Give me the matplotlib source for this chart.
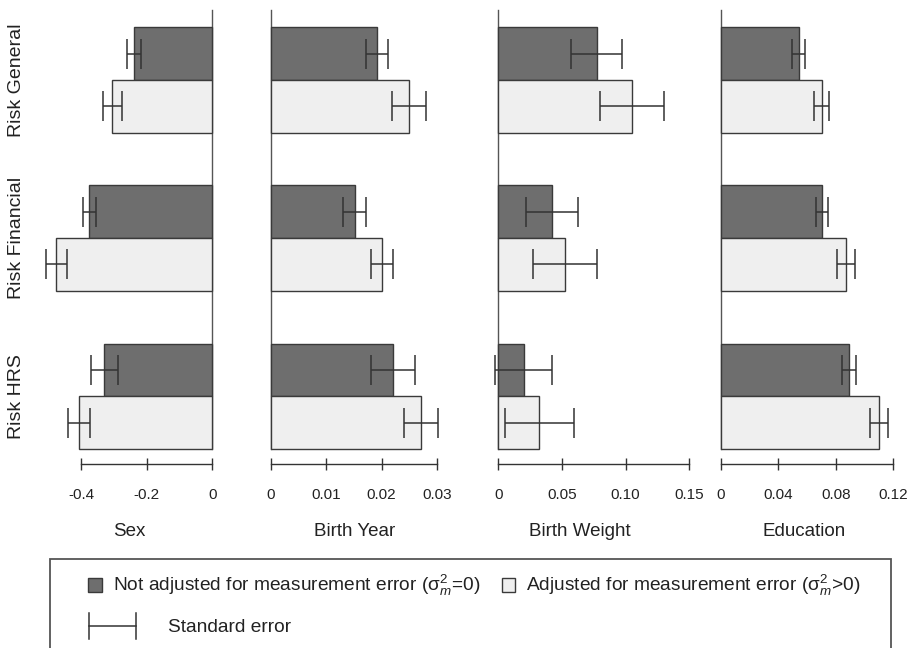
import matplotlib
matplotlib.use("Agg")
import matplotlib.pyplot as plt
import matplotlib.transforms as mtrans
from matplotlib.patches import Rectangle
from matplotlib.lines import Line2D

plt.rcParams['font.family'] = ['Liberation Sans', 'DejaVu Sans']
plt.rcParams['mathtext.fontset'] = 'custom'
plt.rcParams['mathtext.rm'] = 'Liberation Sans'
plt.rcParams['mathtext.it'] = 'Liberation Sans:italic'

# ---------------- data ----------------
outcomes = ["Risk General", "Risk Financial", "Risk HRS"]
predictors = ["Sex", "Birth Year", "Birth Weight", "Education"]

sex_unadj = [-0.239, -0.375, -0.330]
sex_unadj_se = [0.020, 0.021, 0.041]
sex_adj = [-0.305, -0.477, -0.407]
sex_adj_se = [0.030, 0.032, 0.034]

by_unadj = [0.0191, 0.0151, 0.0221]
by_unadj_se = [0.0020, 0.0020, 0.0040]
by_adj = [0.0250, 0.0200, 0.0271]
by_adj_se = [0.0031, 0.0020, 0.0030]

bw_unadj = [0.0773, 0.0422, 0.0200]
bw_unadj_se = [0.0199, 0.0202, 0.0223]
bw_adj = [0.1049, 0.0522, 0.0322]
bw_adj_se = [0.0252, 0.0250, 0.0271]

ed_unadj = [0.0542, 0.0702, 0.0894]
ed_unadj_se = [0.0043, 0.0042, 0.0050]
ed_adj = [0.0702, 0.0869, 0.1099]
ed_adj_se = [0.0053, 0.0063, 0.0064]

sex_ticks = [-0.4, -0.2, 0.0]
sex_ticklabels = ["-0.4", "-0.2", "0"]
by_ticks = [0.0, 0.01, 0.02, 0.03]
by_ticklabels = ["0", "0.01", "0.02", "0.03"]
bw_ticks = [0.0, 0.05, 0.10, 0.15]
bw_ticklabels = ["0", "0.05", "0.10", "0.15"]
ed_ticks = [0.0, 0.04, 0.08, 0.12]
ed_ticklabels = ["0", "0.04", "0.08", "0.12"]

legend_unadj = r"Not adjusted for measurement error ($\mathrm{\sigma}_m^2$=0)"
legend_adj = r"Adjusted for measurement error ($\mathrm{\sigma}_m^2$>0)"
legend_se = "Standard error"

# ---------------- layout ----------------
W, H = 915, 648
fig = plt.figure(figsize=(W / 100, H / 100), dpi=100)

def fx(px):
    return px / W

def fy(py):
    return 1 - py / H

DARK = "#6e6e6e"
LIGHT = "#efefef"
EDGE = "#3a3a3a"
LINEC = "#333333"
TEXTC = "#222222"

panels = [
    (sex_unadj, sex_unadj_se, sex_adj, sex_adj_se, sex_ticks, sex_ticklabels, 212.3, 327.5),
    (by_unadj, by_unadj_se, by_adj, by_adj_se, by_ticks, by_ticklabels, 271.0, 5533.0),
    (bw_unadj, bw_unadj_se, bw_adj, bw_adj_se, bw_ticks, bw_ticklabels, 498.3, 1273.0),
    (ed_unadj, ed_unadj_se, ed_adj, ed_adj_se, ed_ticks, ed_ticklabels, 720.7, 1438.0),
]

y_unit = 52.7      # px per bar height
y0_px = 27.3       # px of data y = 0
ax_top_px, ax_bot_px = 0, 475
ylim_top = (ax_top_px - y0_px) / y_unit
ylim_bot = (ax_bot_px - y0_px) / y_unit
axis_y = (464 - y0_px) / y_unit

axes = []
for i, (u, use, a, ase, ticks, tlabels, zero_px, scale) in enumerate(panels):
    left_px = 17 + 225 * i
    right_px = left_px + 225
    ax = fig.add_axes([fx(left_px), fy(ax_bot_px), (right_px - left_px) / W,
                       (ax_bot_px - ax_top_px) / H])
    ax.set_xlim((left_px - zero_px) / scale, (right_px - zero_px) / scale)
    ax.set_ylim(ylim_bot, ylim_top)
    ax.patch.set_visible(False)

    n = len(u)
    yd = [3 * g + 0.5 for g in range(n)]
    yl = [3 * g + 1.5 for g in range(n)]
    ax.barh(yd, u, height=1.0, color=DARK, edgecolor=EDGE, linewidth=1.0, zorder=2)
    ax.barh(yl, a, height=1.0, color=LIGHT, edgecolor=EDGE, linewidth=1.0, zorder=2)
    ax.errorbar(u, yd, xerr=use, fmt='none', ecolor=LINEC, elinewidth=1.1,
                capsize=11, capthick=1.1, zorder=3)
    ax.errorbar(a, yl, xerr=ase, fmt='none', ecolor=LINEC, elinewidth=1.1,
                capsize=11, capthick=1.1, zorder=3)
    ax.plot([0, 0], [-0.33, 3 * n - 1], color="#555555", lw=1.0, zorder=1)

    for s in ["top", "right", "left"]:
        ax.spines[s].set_visible(False)
    ax.spines["bottom"].set_position(("data", axis_y))
    ax.spines["bottom"].set_bounds(ticks[0], ticks[-1])
    ax.spines["bottom"].set_color(LINEC)
    ax.spines["bottom"].set_linewidth(1.0)
    ax.set_xticks(ticks)
    ax.set_xticklabels(tlabels)
    ax.tick_params(axis="x", direction="inout", length=8, width=1.0, color=LINEC,
                   labelsize=11, labelcolor=TEXTC, pad=13.5)
    ax.set_yticks([])

    tr = mtrans.blended_transform_factory(ax.transAxes, fig.transFigure)
    ax.text(0.5, fy(531), predictors[i], transform=tr, ha="center", va="center",
            fontsize=13.5, color=TEXTC)
    axes.append(ax)

trY = mtrans.blended_transform_factory(fig.transFigure, axes[0].transData)
for g, name in enumerate(outcomes):
    fig.text(fx(16.5), 3 * g + 1, name, transform=trY, rotation=90,
             ha="center", va="center", fontsize=14, color=TEXTC)

# ---------------- legend ----------------
box = Rectangle((fx(50), fy(680)), fx(891) - fx(50), fy(559) - fy(680),
                transform=fig.transFigure, facecolor="none", edgecolor="#555555",
                linewidth=1.3, clip_on=False)
fig.patches.append(box)

fig.patches.append(Rectangle((fx(88), fy(592)), 14 / W, 14 / H, transform=fig.transFigure,
                             facecolor=DARK, edgecolor=EDGE, linewidth=1.0))
fig.text(fx(113), fy(585.5), legend_unadj, ha="left", va="center", fontsize=13.8, color=TEXTC)
fig.patches.append(Rectangle((fx(502), fy(592)), 13 / W, 14 / H, transform=fig.transFigure,
                             facecolor=LIGHT, edgecolor=EDGE, linewidth=1.0))
fig.text(fx(526), fy(585.5), legend_adj, ha="left", va="center", fontsize=13.8, color=TEXTC)

fig.lines.append(Line2D([fx(89), fx(136)], [fy(626), fy(626)], transform=fig.transFigure,
                        color=LINEC, lw=1.1))
fig.lines.append(Line2D([fx(89), fx(89)], [fy(613), fy(639)], transform=fig.transFigure,
                        color=LINEC, lw=1.1))
fig.lines.append(Line2D([fx(136), fx(136)], [fy(613), fy(639)], transform=fig.transFigure,
                        color=LINEC, lw=1.1))
fig.text(fx(168), fy(627), legend_se, ha="left", va="center", fontsize=13.8, color=TEXTC)

fig.savefig("out.png", dpi=100)
